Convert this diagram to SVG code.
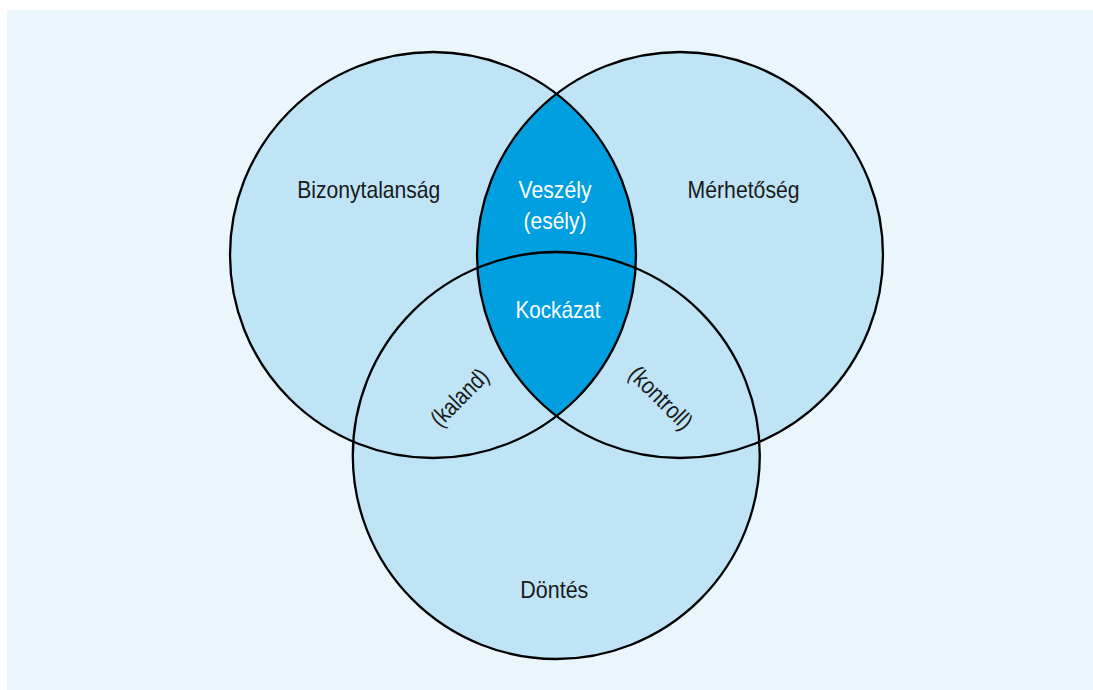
<svg xmlns="http://www.w3.org/2000/svg" width="1093" height="690" viewBox="0 0 1093 690">
<style>
.bg{fill:#EAF5FC}
.fillc{fill:#BEE4F6;stroke:none}
.lens{fill:#009FDF;stroke:none}
.ring{fill:none;stroke:#000;stroke-width:2.3}
.lbl{font-family:"Liberation Sans",Arial,sans-serif;font-size:24px;fill:#1a1a1a;text-anchor:middle}
.wht{fill:#ffffff}
</style>
<rect class="bg" x="7" y="10" width="1086" height="680"/>
<g id="fills">
<circle class="fillc" cx="433" cy="255" r="203"/>
<circle class="fillc" cx="680" cy="255" r="203"/>
<circle class="fillc" cx="556.3" cy="455.5" r="203.5"/>
</g>
<g id="node-veszely-kockazat">
<path class="lens" d="M556.5,93.9 A203,203 0 0 1 556.5,416.1 A203,203 0 0 1 556.5,93.9 Z"/>
</g>
<g id="outlines">
<circle class="ring" cx="433" cy="255" r="203"/>
<circle class="ring" cx="680" cy="255" r="203"/>
<circle class="ring" cx="556.3" cy="455.5" r="203.5"/>
</g>
<g id="node-bizonytalansag">
<text class="lbl" x="368.8" y="197.5" textLength="143" lengthAdjust="spacingAndGlyphs">Bizonytalanság</text>
</g>
<g id="node-merhetoseg">
<text class="lbl" x="743.6" y="197.5" textLength="112" lengthAdjust="spacingAndGlyphs">Mérhetőség</text>
</g>
<g id="node-dontes">
<text class="lbl" x="554.3" y="597.5" textLength="68" lengthAdjust="spacingAndGlyphs">Döntés</text>
</g>
<g id="node-veszely">
<text class="lbl wht" x="555" y="197.5" textLength="73" lengthAdjust="spacingAndGlyphs">Veszély</text>
<text class="lbl wht" x="555" y="228.5" textLength="63" lengthAdjust="spacingAndGlyphs">(esély)</text>
</g>
<g id="node-kockazat">
<text class="lbl wht" x="558" y="317.5" textLength="85" lengthAdjust="spacingAndGlyphs">Kockázat</text>
</g>
<g id="node-kaland">
<text class="lbl" transform="translate(460,397.8) rotate(-45)" x="0" y="7.5" textLength="71" lengthAdjust="spacingAndGlyphs">(kaland)</text>
</g>
<g id="node-kontroll">
<text class="lbl" transform="translate(660.5,398.3) rotate(45)" x="0" y="7.5" textLength="79" lengthAdjust="spacingAndGlyphs">(kontroll)</text>
</g>
</svg>
